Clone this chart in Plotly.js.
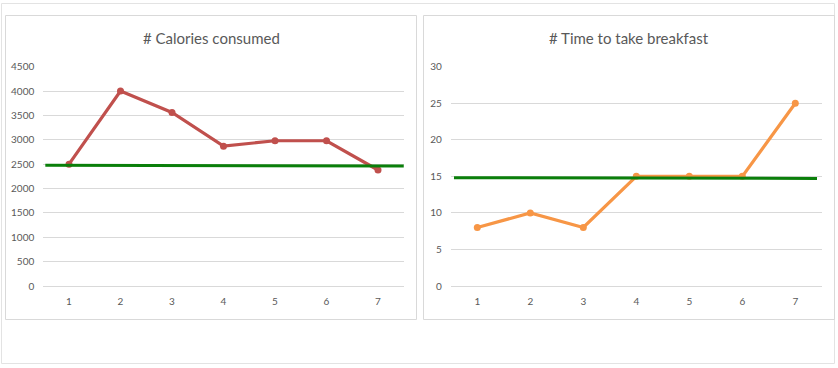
<!DOCTYPE html>
<html>
<head>
<meta charset="utf-8">
<script src="https://cdn.plot.ly/plotly-3.0.1.min.js"></script>
<style>html,body{margin:0;padding:0;background:#fff;}#chart{width:838px;height:368px;}</style>
</head>
<body>
<div id="chart"></div>
<script>
// Data
const days = [1, 2, 3, 4, 5, 6, 7];
const dayLabels = ["1", "2", "3", "4", "5", "6", "7"];
const calories = [2500, 4000, 3560, 2870, 2980, 2980, 2380];
const breakfastTime = [8, 10, 8, 15, 15, 15, 25];
const calTargetX = [0.54, 7.52];
const calTargetY = [2480, 2462];
const timeTargetX = [0.56, 7.41];
const timeTargetY = [14.82, 14.72];
const titles = ["# Calories consumed", "# Time to take breakfast"];

const W = 838, H = 368;
const px = v => v / W;
const py = v => 1 - v / H;

const gray = "#595959";
const gridColor = "#d9d9d9";
const fontFam = "Lato, 'Open Sans', sans-serif";

const traces = [
  {x: days, y: calories, xaxis: "x", yaxis: "y", mode: "lines+markers",
   line: {color: "#c0504d", width: 3.2}, marker: {color: "#c0504d", size: 7}},
  {x: calTargetX, y: calTargetY, xaxis: "x", yaxis: "y", mode: "lines",
   line: {color: "#0a7f0a", width: 3}},
  {x: days, y: breakfastTime, xaxis: "x2", yaxis: "y2", mode: "lines+markers",
   line: {color: "#f79646", width: 3.2}, marker: {color: "#f79646", size: 7}},
  {x: timeTargetX, y: timeTargetY, xaxis: "x2", yaxis: "y2", mode: "lines",
   line: {color: "#0a7f0a", width: 3}}
];

const xCommon = {
  range: [0.5, 7.5], tickvals: days, ticktext: dayLabels, showgrid: false,
  zeroline: false, showline: false, ticks: "", fixedrange: true,
  tickfont: {family: fontFam, size: 10, color: gray}, ticklabelstandoff: 8
};
const yCommon = {
  showgrid: true, gridcolor: gridColor, gridwidth: 1, zeroline: true,
  zerolinecolor: gridColor, zerolinewidth: 1, showline: false, ticks: "",
  tickfont: {family: fontFam, size: 10, color: gray}, ticklabelstandoff: 8,
  fixedrange: true
};

const layout = {
  width: W, height: H,
  margin: {l: 0, r: 0, t: 0, b: 0},
  paper_bgcolor: "#fff", plot_bgcolor: "rgba(0,0,0,0)",
  showlegend: false,
  xaxis: Object.assign({}, xCommon, {domain: [px(43.25), px(403.75)], anchor: "y"}),
  yaxis: Object.assign({}, yCommon, {domain: [py(286), py(66.7)], range: [0, 4500], dtick: 500, anchor: "x"}),
  xaxis2: Object.assign({}, xCommon, {domain: [px(450.8), px(821.8)], anchor: "y2"}),
  yaxis2: Object.assign({}, yCommon, {domain: [py(286), py(66.7)], range: [0, 30], dtick: 5, anchor: "x2"}),
  shapes: [
    {type: "rect", xref: "paper", yref: "paper", x0: px(1.5), x1: px(834.5), y0: py(363.5), y1: py(3.5),
     line: {color: "#e3e3e3", width: 1}, layer: "below"},
    {type: "rect", xref: "paper", yref: "paper", x0: px(5.5), x1: px(416.5), y0: py(319.5), y1: py(15.5),
     line: {color: "#d9d9d9", width: 1}, layer: "below"},
    {type: "rect", xref: "paper", yref: "paper", x0: px(423.5), x1: px(834.5), y0: py(319.5), y1: py(15.5),
     line: {color: "#d9d9d9", width: 1}, layer: "below"}
  ],
  annotations: [
    {text: titles[0], xref: "paper", yref: "paper", x: px(211), y: py(38), xanchor: "center", yanchor: "middle",
     showarrow: false, font: {family: fontFam, size: 15, color: gray}},
    {text: titles[1], xref: "paper", yref: "paper", x: px(629), y: py(38), xanchor: "center", yanchor: "middle",
     showarrow: false, font: {family: fontFam, size: 15, color: gray}}
  ]
};

Plotly.newPlot("chart", traces, layout, {displayModeBar: false, staticPlot: true});
</script>
</body>
</html>
